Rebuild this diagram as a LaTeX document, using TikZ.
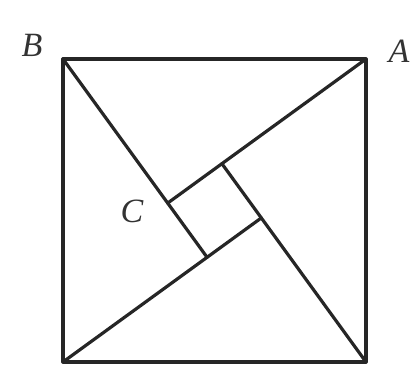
\documentclass[tikz,border=0pt]{standalone}
\usepackage{fontspec}
\setmainfont{Liberation Serif}
\usetikzlibrary{calc}
\begin{document}
\begin{tikzpicture}[x=1pt,y=1pt,
  edge/.style={line width=3.2pt,line cap=round,line join=round,black!85},
  lbl/.style={font=\fontsize{34}{34}\selectfont\itshape,inner sep=0pt,text=black!80}]
\useasboundingbox (0,0) rectangle (418,367);
\coordinate (B) at (63,308);
\coordinate (A) at (366,308);
\coordinate (E) at (366,5);
\coordinate (D) at (63,5);
\coordinate (C) at ($(B)+(-54:178.1)$);
\coordinate (Q) at ($(A)+(-144:178.1)$);
\coordinate (R) at ($(E)+(126:178.1)$);
\coordinate (S) at ($(D)+(36:178.1)$);
\draw[edge] (B) -- (A) -- (E) -- (D) -- cycle;
\draw[edge] (B) -- (S);
\draw[edge] (A) -- (C);
\draw[edge] (E) -- (Q);
\draw[edge] (D) -- (R);
\node[lbl] (lB) at (32,322) {B};
\node[lbl] (lA) at (399,316) {A};
\node[lbl] (lC) at (132,156) {C};
\end{tikzpicture}
\end{document}
